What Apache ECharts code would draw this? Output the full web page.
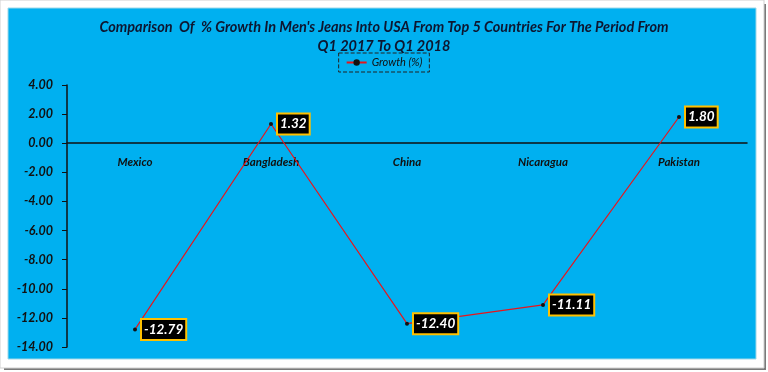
<!DOCTYPE html>
<html><head><meta charset="utf-8">
<script src="https://cdn.jsdelivr.net/npm/echarts@6/dist/echarts.min.js"></script>
<style>html,body{margin:0;padding:0;background:#fff}#c{width:768px;height:372px}</style>
</head><body><div id="c"></div>
<script>
const categories = ["Mexico", "Bangladesh", "China", "Nicaragua", "Pakistan"];
const growth = [-12.79, 1.32, -12.40, -11.11, 1.80];
const seriesName = "Growth (%)";
const titleText = "Comparison  Of  % Growth In Men's Jeans Into USA From Top 5 Countries For The Period From\nQ1 2017 To Q1 2018";

const chart = echarts.init(document.getElementById('c'));
const FONT = 'Lato';
chart.setOption({
  backgroundColor: '#ffffff',
  animation: false,
  graphic: [
    {type:'rect', z:-10, shape:{x:0,y:0,width:764,height:368}, style:{fill:'#ffffff', stroke:'#d0d0d0', lineWidth:1}},
    {type:'rect', z:-11, shape:{x:761,y:4,width:5,height:366}, style:{fill:'#7a7a7a'}},
    {type:'rect', z:-11, shape:{x:4,y:365,width:762,height:5}, style:{fill:'#7a7a7a'}},
    {type:'rect', z:-9, shape:{x:8,y:8,width:748,height:351}, style:{fill:'#00B0F0', stroke:'#9fd8e8', lineWidth:1}}
  ],
  title: {
    text: titleText,
    left: 'center', top: 13,
    textStyle: {fontFamily: FONT, fontSize: 14.5, fontWeight: 'bold', fontStyle: 'italic', color: '#0d1630', lineHeight: 19}
  },
  legend: {
    top: 53, left: 'center',
    data: [seriesName],
    itemWidth: 20, itemHeight: 8,
    padding: [4, 7],
    borderColor: '#222', borderWidth: 1, borderType: 'dashed',
    textStyle: {fontFamily: FONT, fontSize: 11, fontStyle: 'italic', color: '#111'},
    itemGap: 4
  },
  grid: {left: 67, right: 21, top: 85, bottom: 25, containLabel: false},
  xAxis: {
    type: 'category', data: categories,
    offset: -204,
    axisLine: {onZero: false, lineStyle: {color: '#111', width: 1.5}},
    axisTick: {show: false},
    axisLabel: {margin: 13, fontFamily: FONT, fontSize: 11.5, fontWeight: 'bold', fontStyle: 'italic', color: '#111'}
  },
  yAxis: {
    type: 'value', min: -14, max: 4, interval: 2,
    splitLine: {show: false},
    axisLine: {show: true, lineStyle: {color: '#111', width: 1.5}},
    axisTick: {show: true, length: 5, lineStyle: {color: '#111'}},
    axisLabel: {margin: 14, formatter: v => v.toFixed(2), fontFamily: FONT, fontSize: 12.5, fontWeight: 'bold', fontStyle: 'italic', color: '#111'}
  },
  series: [{
    name: seriesName, type: 'line', data: growth,
    symbol: 'circle', symbolSize: 4,
    itemStyle: {color: '#111'},
    lineStyle: {color: '#e8151b', width: 1.2},
    label: {
      show: true, position: 'right', distance: 5,
      formatter: p => p.value.toFixed(2),
      backgroundColor: '#000', borderColor: '#FFC000', borderWidth: 2,
      padding: [3, 2, 2, 2],
      color: '#fff', fontFamily: FONT, fontSize: 13.5, fontWeight: 'bold', fontStyle: 'italic'
    }
  }]
});
</script></body></html>
